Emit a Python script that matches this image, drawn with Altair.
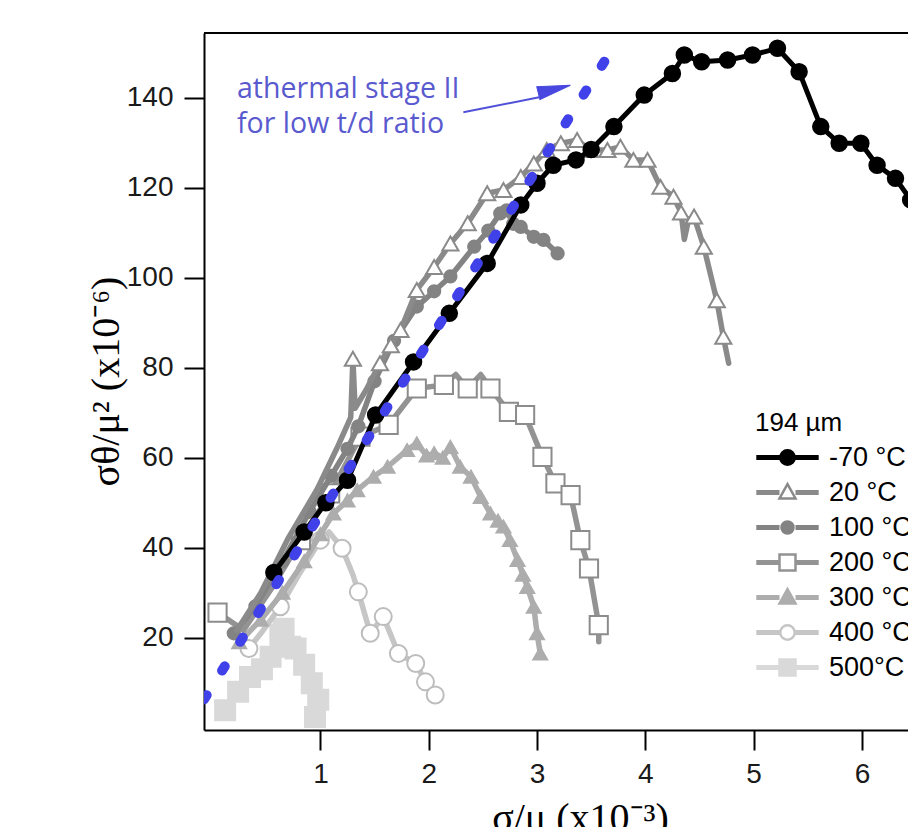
import altair as alt
import pandas as pd

# ---------------- data ----------------
series_names = ["-70 °C", "20 °C", "100 °C", "200 °C", "300 °C", "400 °C", "500°C"]

x_m70 = [0.57, 0.85, 1.05, 1.25, 1.51, 1.86, 2.19, 2.54, 2.85, 3.00, 3.15, 3.36, 3.50, 3.71,
         3.99, 4.25, 4.36, 4.52, 4.76, 4.99, 5.22, 5.42, 5.62, 5.79, 5.99, 6.14, 6.31, 6.45, 6.59]
y_m70 = [34.5, 43.5, 50.0, 55.0, 69.5, 81.3, 92.1, 103.2, 116.2, 121.0, 125.0, 126.2, 128.5, 133.6,
         140.6, 145.4, 149.5, 148.0, 148.4, 149.5, 151.0, 145.8, 133.6, 129.9, 129.9, 125.0, 122.1, 117.3, 108.4]

x_20 = [0.23, 0.45, 0.70, 0.97, 1.15, 1.28, 1.30, 1.32, 1.42, 1.55, 1.65, 1.74, 1.89, 2.05, 2.20,
        2.36, 2.54, 2.69, 2.85, 2.97, 3.09, 3.22, 3.37, 3.49, 3.65, 3.77, 3.89, 4.02, 4.14, 4.26,
        4.33, 4.36, 4.40, 4.45, 4.54, 4.66, 4.72, 4.77]
y_20 = [21.7, 30.0, 42.0, 53.0, 62.0, 69.0, 82.0, 71.0, 75.0, 81.0, 85.0, 88.4, 97.3, 102.4, 107.6,
        112.1, 118.8, 119.5, 122.4, 125.4, 128.4, 129.9, 130.6, 128.4, 128.4, 129.1, 126.2, 126.2, 120.2, 118.0,
        114.5, 108.5, 113.0, 113.6, 106.9, 95.0, 86.9, 81.0]
m_20 = [0, 0, 0, 0, 0, 0, 1, 0, 0, 1, 1, 1, 1, 1, 1,
        1, 1, 1, 1, 1, 1, 1, 1, 1, 1, 1, 1, 1, 1, 1,
        1, 0, 0, 1, 1, 1, 1, 0]

x_100 = [0.20, 0.40, 0.65, 0.90, 1.10, 1.25, 1.35, 1.50, 1.68, 1.89, 2.05, 2.20, 2.42, 2.55,
         2.66, 2.72, 2.78, 2.85, 2.97, 3.06, 3.19]
y_100 = [21.0, 27.0, 37.0, 48.0, 56.0, 62.0, 67.0, 77.0, 86.0, 93.6, 97.0, 100.3, 106.9, 110.5,
         114.3, 115.0, 112.0, 111.3, 109.1, 108.4, 105.4]

x_200 = [0.05, 0.29, 0.55, 0.82, 1.09, 1.37, 1.63, 1.89, 2.14, 2.25, 2.36, 2.48, 2.57, 2.74,
         2.89, 3.05, 3.17, 3.31, 3.40, 3.48, 3.57, 3.57]
y_200 = [25.6, 21.7, 31.0, 41.7, 52.1, 64.7, 67.3, 75.4, 76.2, 78.5, 75.4, 78.5, 75.4, 70.2,
         69.5, 60.2, 54.3, 51.7, 41.7, 35.4, 22.8, 19.1]
m_200 = [1, 0, 0, 1, 1, 1, 1, 1, 1, 0, 1, 0, 1, 1,
         1, 1, 1, 1, 1, 1, 1, 0]

x_300 = [0.25, 0.45, 0.65, 0.85, 1.00, 1.12, 1.25, 1.34, 1.49, 1.62, 1.80, 1.89, 1.98, 2.05, 2.13,
         2.20, 2.29, 2.39, 2.48, 2.57, 2.64, 2.69, 2.75, 2.82, 2.87, 2.91, 2.97, 3.00, 3.03]
y_300 = [19.0, 24.0, 30.0, 37.0, 43.0, 47.6, 50.5, 52.8, 55.8, 58.0, 61.7, 63.2, 60.5, 61.0, 60.0,
         62.4, 58.0, 55.8, 51.3, 47.6, 46.0, 44.7, 41.7, 37.3, 34.0, 31.3, 26.9, 21.0, 16.5]

x_400 = [0.34, 0.45, 0.63, 0.80, 1.00, 1.08, 1.20, 1.30, 1.35, 1.46, 1.58, 1.72, 1.88, 1.97, 2.06]
y_400 = [17.6, 21.0, 26.9, 34.0, 41.7, 43.5, 39.9, 34.0, 30.2, 21.0, 24.7, 16.5, 14.3, 10.2, 7.3]
m_400 = [1, 0, 1, 0, 1, 0, 1, 0, 1, 1, 1, 1, 1, 1, 1]

x_500 = [0.12, 0.24, 0.35, 0.46, 0.54, 0.63, 0.66, 0.72, 0.77, 0.85, 0.92, 0.98, 0.95]
y_500 = [3.9, 8.0, 11.3, 13.0, 15.8, 20.6, 22.0, 18.0, 17.6, 14.0, 9.9, 6.2, 2.4]

# athermal stage II guide line and annotation
guide_x = [-0.075, 3.66]
guide_y = [6.3, 149.5]
note_lines = ["athermal stage II", "for low t/d ratio"]
note_x = [0.23, 0.23]
note_y = [139.9, 132.2]
arrow_x = [2.32, 3.02]
arrow_y = [136.8, 140.1]
arrowhead_x = [3.16]
arrowhead_y = [141.9]
frame_top = [154.4]

x_ticks = [1, 2, 3, 4, 5, 6]
y_ticks = [20, 40, 60, 80, 100, 120, 140]

# ---------------- styling ----------------
line_colors = ["#000000", "#8a8a8a", "#838383", "#939393", "#adadad", "#c6c6c6", "#d9d9d9"]
mk_shape = ["circle", "triangle-up", "circle", "square", "triangle-up", "circle", "square"]
mk_size = [240, 260, 150, 330, 190, 290, 400]
mk_fill = ["#000000", "#ffffff", "#838383", "#ffffff", "#adadad", "#ffffff", "#d9d9d9"]
mk_stroke = ["#000000", "#8a8a8a", "#838383", "#8c8c8c", "#adadad", "#bdbdbd", "#d9d9d9"]
line_w = [5, 5.5, 5.5, 5.5, 5.5, 5.5, 5.5]

LINE = "M-3.9,-0.16H-1M-3.9,0.16H-1M1,-0.16H3.9M1,0.16H3.9"
CIRC = "M-0.9,0A0.9,0.9 0 1,0 0.9,0A0.9,0.9 0 1,0 -0.9,0Z"
SCIRC = "M-0.75,0A0.75,0.75 0 1,0 0.75,0A0.75,0.75 0 1,0 -0.75,0Z"
TRI = "M0,-1.05L1,0.75L-1,0.75Z"
SQ = "M-1,-1H1V1H-1Z"
legend_shapes = [LINE + CIRC, LINE + TRI, LINE + SCIRC, LINE + SQ, LINE + TRI, LINE + CIRC, LINE + SQ]
legend_fill = mk_fill
legend_stroke = line_colors

# ---------------- build tables ----------------
xs = [x_m70, x_20, x_100, x_200, x_300, x_400, x_500]
ys = [y_m70, y_20, y_100, y_200, y_300, y_400, y_500]
ms = [None, m_20, None, m_200, None, m_400, None]
rows = []
for name, xv, yv, mv in zip(series_names, xs, ys, ms):
    for i, (a, b) in enumerate(zip(xv, yv)):
        rows.append({"series": name, "x": a, "y": b, "idx": i,
                     "marker": 1 if mv is None else mv[i]})
df = pd.DataFrame(rows)

PLOT_W = 704
xscale = alt.Scale(domain=[-0.075, -0.075 + PLOT_W / 108.3], nice=False, zero=False)
yscale = alt.Scale(domain=[-0.5, 154.4], nice=False, zero=False)

FONT = "Liberation Sans"
x_axis = alt.Axis(values=x_ticks, tickSize=20, tickWidth=2, tickColor="black",
                  domainColor="black", domainWidth=2, grid=False,
                  labelFont=FONT, labelFontSize=28, labelColor="#1a1a1a", labelPadding=10,
                  title="σ/μ (x10⁻³)", titleFont="Liberation Serif", titleFontSize=40,
                  titleFontWeight="normal", titleColor="black",
                  titleX=376, titleY=100, titleAlign="center", titleBaseline="alphabetic")
y_axis = alt.Axis(values=y_ticks, tickSize=20, tickWidth=2, tickColor="black",
                  domainColor="black", domainWidth=2, grid=False,
                  labelFont=FONT, labelFontSize=28, labelColor="#1a1a1a", labelPadding=11,
                  title="σθ/μ² (x10⁻⁶)", titleFont="Liberation Serif", titleFontSize=40,
                  titleFontWeight="normal", titleColor="black", titleAngle=270,
                  titleX=-86, titleY=348, titleAlign="center", titleBaseline="alphabetic")


def X(field="x"):
    return alt.X(f"{field}:Q", scale=xscale, axis=x_axis)


def Y(field="y"):
    return alt.Y(f"{field}:Q", scale=yscale, axis=y_axis)


layers = []
order = list(range(len(series_names)))[::-1]  # draw lightest first, black last
for k in order:
    name = series_names[k]
    base = alt.Chart(df).transform_filter(alt.datum.series == name)
    line = base.mark_line(color=line_colors[k], strokeWidth=line_w[k], strokeJoin="round",
                          strokeCap="round", clip=True).encode(x=X(), y=Y(), order="idx:Q")
    pts = base.transform_filter(alt.datum.marker == 1).mark_point(
        shape=mk_shape[k], size=mk_size[k], filled=True, fill=mk_fill[k], stroke=mk_stroke[k],
        strokeWidth=2, opacity=1, clip=True).encode(x=X(), y=Y())
    layers += [line, pts]

guide_df = pd.DataFrame({"x": guide_x, "y": guide_y})
guide = alt.Chart(guide_df).mark_line(color="#4141ea", strokeWidth=10, strokeDash=[5, 29],
                                      strokeCap="round", clip=True).encode(x=X(), y=Y())

note_df = pd.DataFrame({"x": note_x, "y": note_y, "t": note_lines})
note = alt.Chart(note_df).mark_text(align="left", baseline="alphabetic", font="Open Sans",
                                    fontSize=28.5, color="#5a5acf").encode(x=X(), y=Y(), text="t:N")

arrow_df = pd.DataFrame({"x": arrow_x, "y": arrow_y})
arrow = alt.Chart(arrow_df).mark_line(color="#5050d8", strokeWidth=2).encode(x=X(), y=Y())
head_df = pd.DataFrame({"x": arrowhead_x, "y": arrowhead_y})
head = alt.Chart(head_df).mark_point(shape="M1,0L-1,-0.4L-1,0.4Z", size=1089, angle=346,
                                     filled=True, fill="#4848e0", stroke="#4848e0",
                                     strokeWidth=1, opacity=1).encode(x=X(), y=Y())

frame_df = pd.DataFrame({"y": frame_top})
frame = alt.Chart(frame_df).mark_rule(color="black", strokeWidth=2).encode(y=Y())

leg = alt.Legend(title="194 µm", orient="none", legendX=551, legendY=377, padding=0,
                 titleFont=FONT, titleFontSize=26, titleFontWeight="normal", titleColor="black",
                 titlePadding=8, labelFont=FONT, labelFontSize=27, labelColor="black",
                 symbolSize=256, symbolStrokeWidth=2.5, symbolOffset=19, labelOffset=28,
                 rowPadding=7.0, labelLimit=300)
legend_layer = alt.Chart(df).transform_filter("false").mark_point(filled=True, opacity=1).encode(
    x=X(), y=Y(),
    shape=alt.Shape("series:N", scale=alt.Scale(domain=series_names, range=legend_shapes), legend=leg),
    fill=alt.Fill("series:N", scale=alt.Scale(domain=series_names, range=legend_fill), legend=leg),
    stroke=alt.Stroke("series:N", scale=alt.Scale(domain=series_names, range=legend_stroke), legend=leg),
)

chart = alt.layer(*layers, guide, note, arrow, head, frame, legend_layer).properties(
    width=PLOT_W, height=697,
    autosize=alt.AutoSizeParams(type="none"),
    padding={"left": 196, "top": 25, "right": 0, "bottom": 97},
).configure_view(stroke=None)

chart.save("out.html", embed_options={"renderer": "svg", "actions": False})
